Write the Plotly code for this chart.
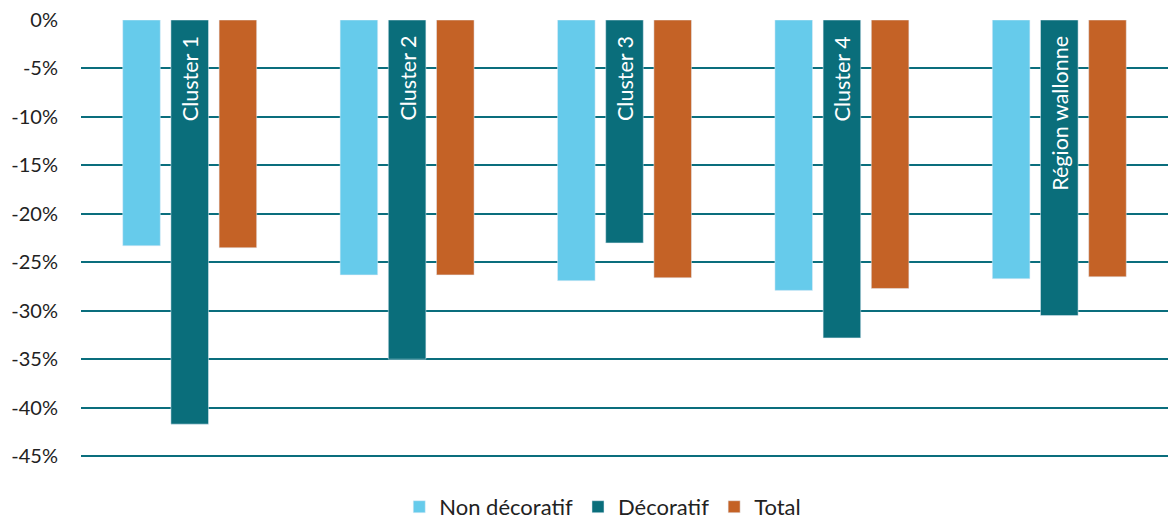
import plotly.graph_objects as go

categories = ["Cluster 1", "Cluster 2", "Cluster 3", "Cluster 4", "Région wallonne"]
non_decoratif = [-23.3, -26.3, -26.9, -27.9, -26.7]
decoratif = [-41.7, -35.0, -23.0, -32.8, -30.5]
total = [-23.5, -26.3, -26.6, -27.7, -26.5]
tick_vals = [0, -5, -10, -15, -20, -25, -30, -35, -40, -45]
tick_labels = ["0%", "-5%", "-10%", "-15%", "-20%", "-25%", "-30%", "-35%", "-40%", "-45%"]

FONT = "Lato"
fig = go.Figure()
fig.add_trace(go.Bar(name="Non décoratif", x=categories, y=non_decoratif, marker_color="#66CBEB"))
fig.add_trace(go.Bar(name="Décoratif", x=categories, y=decoratif, marker_color="#0A6E7B"))
fig.add_trace(go.Bar(name="Total", x=categories, y=total, marker_color="#C46226"))

for c in categories:
    fig.add_annotation(x=c, y=0, xref="x", yref="y", text=c, textangle=-90,
                       showarrow=False, yanchor="top", yshift=-14,
                       font=dict(family=FONT, size=21.5, color="white"))

fig.update_layout(
    width=1170, height=521,
    margin=dict(l=81, r=2, t=20, b=61),
    plot_bgcolor="white", paper_bgcolor="white",
    barmode="group", bargap=0.335, bargroupgap=0.22,
    font=dict(family=FONT, size=20, color="#222222"),
    showlegend=True,
    legend=dict(orientation="h", x=0.48, xanchor="center", y=0.027, yanchor="middle",
                yref="container",
                font=dict(family=FONT, size=22, color="#222222"), itemwidth=30),
)
fig.update_xaxes(showticklabels=False, showgrid=False, zeroline=False, showline=False)
fig.update_yaxes(range=[-45.4, 0], tickvals=tick_vals, ticktext=tick_labels,
                 showgrid=True, gridcolor="#0A6E7D", gridwidth=2,
                 zeroline=True, zerolinecolor="white", zerolinewidth=1,
                 showline=False, ticklabelstandoff=22)
fig.write_html("out.html")
